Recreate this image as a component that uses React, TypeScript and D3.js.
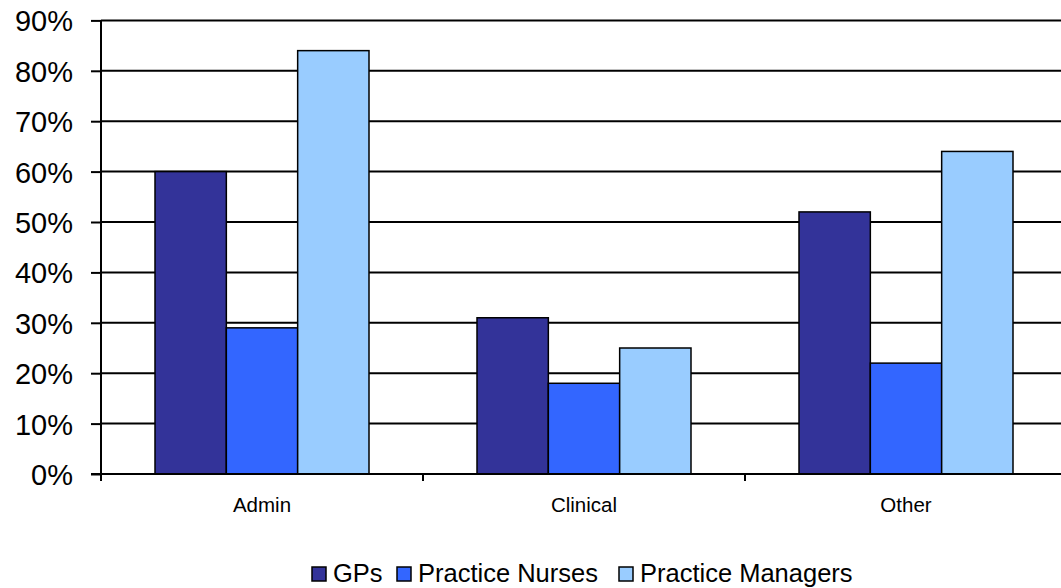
import React, { useRef, useEffect } from 'react';
import * as d3 from 'd3';

const categories = ['Admin', 'Clinical', 'Other'];
const seriesNames = ['GPs', 'Practice Nurses', 'Practice Managers'];
const gps = [0.60, 0.31, 0.52];
const nurses = [0.29, 0.18, 0.22];
const managers = [0.84, 0.25, 0.64];
const yTicks = [0, 0.1, 0.2, 0.3, 0.4, 0.5, 0.6, 0.7, 0.8, 0.9];
const colors = ['#333399', '#3366FF', '#99CCFF'];

const W = 1061;
const H = 588;
const FONT = '"Liberation Sans", Arial, sans-serif';

const App: React.FC = () => {
  const svgRef = useRef<SVGSVGElement>(null);

  useEffect(() => {
    if (!svgRef.current) return;
    const svg = d3.select(svgRef.current);
    svg.selectAll('*').remove();

    const left = 101;
    const right = 1067;
    const top = 20.4;
    const bottom = 474;

    const series = [gps, nurses, managers];

    const x0 = d3.scaleBand<string>().domain(categories).range([left, right]);
    const x1 = d3.scaleBand<string>()
      .domain(seriesNames)
      .range([54, x0.bandwidth() - 54]);
    const y = d3.scaleLinear().domain([0, 0.9]).range([bottom, top]);

    // gridlines
    svg.append('g')
      .selectAll('line')
      .data(yTicks.slice(1))
      .enter().append('line')
      .attr('x1', left).attr('x2', W)
      .attr('y1', d => y(d)).attr('y2', d => y(d))
      .attr('stroke', '#000').attr('stroke-width', 2);

    // bars
    const groups = svg.append('g')
      .selectAll('g')
      .data(categories)
      .enter().append('g')
      .attr('transform', d => `translate(${x0(d)},0)`);

    groups.selectAll('rect')
      .data((_, i) => series.map((s, k) => ({ name: seriesNames[k], v: s[i], k })))
      .enter().append('rect')
      .attr('x', d => x1(d.name) || 0)
      .attr('width', x1.bandwidth())
      .attr('y', d => y(d.v))
      .attr('height', d => bottom - y(d.v))
      .attr('fill', d => colors[d.k])
      .attr('stroke', '#000')
      .attr('stroke-width', 1.5);

    // y axis
    const yAxis = svg.append('g')
      .attr('transform', `translate(${left},0)`)
      .call(d3.axisLeft(y).tickValues(yTicks).tickSize(10).tickPadding(18)
        .tickFormat(d => `${Math.round((d as number) * 100)}%`));
    yAxis.select('.domain').attr('stroke-width', 2).attr('d', `M0,${top}V${bottom}`);
    yAxis.selectAll('.tick line').attr('stroke-width', 2);
    yAxis.selectAll('.tick text')
      .attr('font-family', FONT).attr('font-size', 29).attr('fill', '#000')
      .attr('dy', '0.36em');

    // x axis
    svg.append('line')
      .attr('x1', left - 10).attr('x2', W)
      .attr('y1', bottom).attr('y2', bottom)
      .attr('stroke', '#000').attr('stroke-width', 2);
    const bounds = categories.map(c => x0(c) || 0).concat([right]);
    svg.append('g').selectAll('line')
      .data(bounds)
      .enter().append('line')
      .attr('x1', d => d).attr('x2', d => d)
      .attr('y1', bottom).attr('y2', bottom + 7)
      .attr('stroke', '#000').attr('stroke-width', 2);
    svg.append('g').selectAll('text')
      .data(categories)
      .enter().append('text')
      .attr('x', d => (x0(d) || 0) + x0.bandwidth() / 2)
      .attr('y', 512)
      .attr('text-anchor', 'middle')
      .attr('font-family', FONT).attr('font-size', 20.5)
      .text(d => d);

    // legend
    const legendX = [312, 397, 619];
    const legend = svg.append('g').selectAll('g')
      .data(seriesNames)
      .enter().append('g')
      .attr('transform', (_, i) => `translate(${legendX[i]},567)`);
    legend.append('rect')
      .attr('width', 14).attr('height', 14)
      .attr('fill', (_, i) => colors[i])
      .attr('stroke', '#000').attr('stroke-width', 1.5);
    legend.append('text')
      .attr('x', 21).attr('y', 15)
      .attr('font-family', FONT).attr('font-size', 25.5)
      .text(d => d);
  }, []);

  return (
    <svg ref={svgRef} width={W} height={H}
      style={{ position: 'absolute', left: 0, top: 0, background: '#fff' }} />
  );
};

export default App;
